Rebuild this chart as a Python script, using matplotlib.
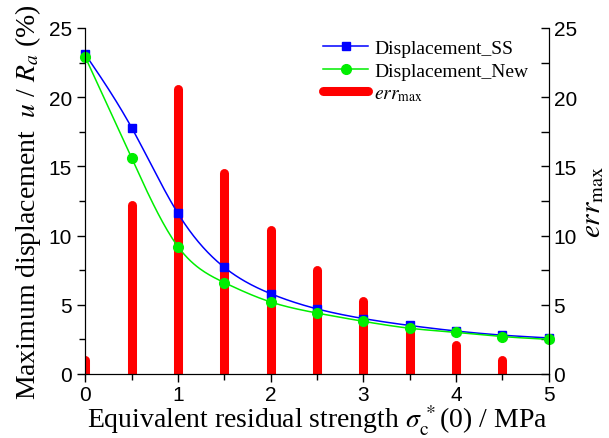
"""Maximum displacement and err_max versus equivalent residual strength."""

import numpy as np
import matplotlib
matplotlib.use("Agg")
import matplotlib.pyplot as plt
from matplotlib.lines import Line2D
from matplotlib.ticker import MultipleLocator

# residual strength sigma_c*(0) in MPa
strength = [0, 0.5, 1.0, 1.5, 2.0, 2.5, 3.0, 3.5, 4.0, 4.5, 5.0]
# u / R_a (%)
disp_ss = [23.1, 17.8, 11.6, 7.7, 5.8, 4.7, 4.0, 3.5, 3.1, 2.8, 2.6]
disp_new = [22.9, 15.6, 9.2, 6.6, 5.2, 4.4, 3.8, 3.3, 3.0, 2.7, 2.5]
# err_max (%)
err_x = [0, 0.5, 1.0, 1.5, 2.0, 2.5, 3.0, 3.5, 4.0, 4.5]
err_max = [1.0, 12.2, 20.6, 14.5, 10.4, 7.5, 5.3, 3.3, 2.1, 1.0]

plt.rcParams['mathtext.fontset'] = 'stix'
SERIF = 'Liberation Serif'
SANS = 'Liberation Sans'


def natural_spline(x, y, n=300):
    """Natural cubic spline through the points, for a smooth line."""
    x = np.asarray(x, float)
    y = np.asarray(y, float)
    k = len(x)
    h = np.diff(x)
    A = np.zeros((k, k))
    b = np.zeros(k)
    A[0, 0] = A[-1, -1] = 1
    for i in range(1, k - 1):
        A[i, i - 1] = h[i - 1]
        A[i, i] = 2 * (h[i - 1] + h[i])
        A[i, i + 1] = h[i]
        b[i] = 3 * ((y[i + 1] - y[i]) / h[i] - (y[i] - y[i - 1]) / h[i - 1])
    c = np.linalg.solve(A, b)
    xs = np.linspace(x[0], x[-1], n)
    idx = np.clip(np.searchsorted(x, xs) - 1, 0, k - 2)
    dx = xs - x[idx]
    hi = h[idx]
    bi = (y[idx + 1] - y[idx]) / hi - hi * (2 * c[idx] + c[idx + 1]) / 3
    di = (c[idx + 1] - c[idx]) / (3 * hi)
    ys = y[idx] + bi * dx + c[idx] * dx ** 2 + di * dx ** 3
    return xs, ys


fig = plt.figure(figsize=(6.09, 4.39), dpi=100)
ax = fig.add_axes([0.14, 0.146, 0.761, 0.788])
ax2 = ax.twinx()

# err_max bars on the right axis, drawn behind the curves
bars = ax2.vlines(err_x, 0, err_max, colors='#ff0000', linewidth=6.5)
bars.set_capstyle('round')
ax.set_zorder(ax2.get_zorder() + 1)
ax.patch.set_visible(False)

xs, ys = natural_spline(strength, disp_ss)
ax.plot(xs, ys, color='#0000ff', lw=1.1)
ax.plot(strength, disp_ss, 's', color='#0000ff', ms=5.5, clip_on=False)
xs, ys = natural_spline(strength, disp_new)
ax.plot(xs, ys, color='#00ee00', lw=1.1)
ax.plot(strength, disp_new, 'o', color='#00ee00', ms=7, clip_on=False)

for a in (ax, ax2):
    a.set_xlim(0, 5)
    a.set_ylim(0, 25)
    a.spines['top'].set_visible(False)

ax.xaxis.set_major_locator(MultipleLocator(1))
ax.xaxis.set_minor_locator(MultipleLocator(0.5))
ax.yaxis.set_major_locator(MultipleLocator(5))
ax.yaxis.set_minor_locator(MultipleLocator(2.5))
ax2.yaxis.set_major_locator(MultipleLocator(5))
ax2.yaxis.set_minor_locator(MultipleLocator(2.5))

ax.tick_params(which='major', direction='out', length=6, width=1, labelsize=15)
ax.tick_params(which='minor', direction='out', length=4, width=1)
ax.tick_params(axis='x', pad=2)
ax2.tick_params(which='major', direction='in', length=6, width=1, labelsize=15)
ax2.tick_params(which='minor', direction='in', length=6, width=1)
for lab in ax.get_xticklabels() + ax.get_yticklabels() + ax2.get_yticklabels():
    lab.set_fontfamily(SANS)

ax.set_xlabel(r'Equivalent residual strength $\sigma_{\mathrm{c}}^{\,*}$(0) / MPa',
              fontsize=20, family=SERIF, labelpad=-1)
ax.set_ylabel(r'Maximum displacement  $u$ / $R_a$ (%)', fontsize=20, family=SERIF,
              labelpad=4)
ax2.set_ylabel(r'$err_{\mathrm{max}}$', fontsize=21, family=SERIF, labelpad=2)

handles = [
    Line2D([], [], color='#0000ff', lw=1.1, marker='s', ms=5.5),
    Line2D([], [], color='#00ee00', lw=1.1, marker='o', ms=7),
    Line2D([], [], color='#ff0000', lw=6.5, solid_capstyle='round'),
]
labels = ['Displacement_SS', 'Displacement_New', r'$err_{\mathrm{max}}$']
ax.legend(handles, labels, loc='upper left', bbox_to_anchor=(0.515, 0.93),
          bbox_transform=fig.transFigure, frameon=False, handlelength=2.3,
          handletextpad=0.3, labelspacing=0.25, borderpad=0,
          prop={'family': SERIF, 'size': 14})

fig.savefig('out.png', dpi=100)
